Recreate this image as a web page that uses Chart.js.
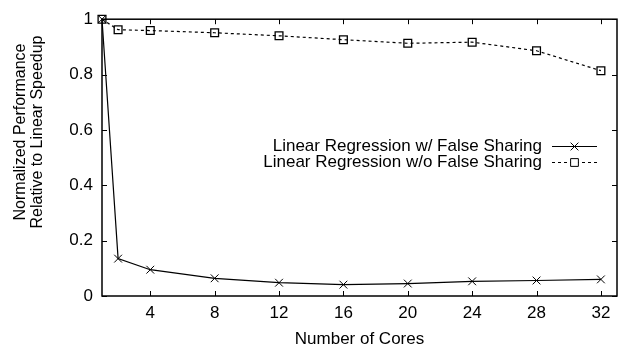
<!DOCTYPE html>
<html>
<head>
<meta charset="utf-8">
<script src="https://cdn.jsdelivr.net/npm/chart.js@4"></script>
<style>
  html, body { margin: 0; padding: 0; background: #fff; }
  #wrap { width: 624px; height: 346px; }
</style>
</head>
<body>
<div id="wrap"><canvas id="myChart" width="624" height="346"></canvas></div>
<script>
// Data
const cores = [1, 2, 4, 8, 12, 16, 20, 24, 28, 32];
const withFalseSharing = [1.0, 0.135, 0.095, 0.064, 0.048, 0.041, 0.045, 0.053, 0.056, 0.06];
const withoutFalseSharing = [1.0, 0.962, 0.959, 0.951, 0.940, 0.926, 0.913, 0.917, 0.886, 0.814];
const xTicks = [4, 8, 12, 16, 20, 24, 28, 32];
const yTicks = [0, 0.2, 0.4, 0.6, 0.8, 1];
const seriesLabels = ['Linear Regression w/ False Sharing', 'Linear Regression w/o False Sharing'];
const xTitle = 'Number of Cores';
const yTitle = ['Normalized Performance', 'Relative to Linear Speedup'];

const FONT = '"Liberation Sans", Arial, sans-serif';
const FSIZE = 17;

function toPoints(xs, ys) {
    return xs.map(function(x, i) { return { x: x, y: ys[i] }; });
}

// Box, inward ticks on all four sides, titles and legend (gnuplot style)
const framePlugin = {
    id: 'frame',
    afterDraw: function(chart) {
        const ctx = chart.ctx;
        const a = chart.chartArea;
        const xs = chart.scales.x;
        const ys = chart.scales.y;
        const tl = 5;
        ctx.save();
        ctx.strokeStyle = '#000';
        ctx.lineWidth = 1;
        ctx.beginPath();
        xTicks.forEach(function(v) {
            const px = Math.round(xs.getPixelForValue(v)) + 0.5;
            ctx.moveTo(px, a.bottom); ctx.lineTo(px, a.bottom - tl);
            ctx.moveTo(px, a.top); ctx.lineTo(px, a.top + tl);
        });
        yTicks.forEach(function(v) {
            const py = Math.round(ys.getPixelForValue(v)) + 0.5;
            ctx.moveTo(a.left, py); ctx.lineTo(a.left + tl, py);
            ctx.moveTo(a.right, py); ctx.lineTo(a.right - tl, py);
        });
        ctx.stroke();
        ctx.lineWidth = 1.5;
        ctx.strokeRect(a.left, a.top, a.right - a.left, a.bottom - a.top);

        ctx.fillStyle = '#000';
        ctx.font = FSIZE + 'px ' + FONT;

        // x title
        ctx.textAlign = 'center';
        ctx.textBaseline = 'alphabetic';
        ctx.fillText(xTitle, (a.left + a.right) / 2, 344);

        // y title
        ctx.font = '16px ' + FONT;
        ctx.textBaseline = 'middle';
        ctx.translate(29, 132);
        ctx.rotate(-Math.PI / 2);
        ctx.fillText(yTitle[0], 0, -8.5);
        ctx.fillText(yTitle[1], 0, 8.5);
        ctx.setTransform(1, 0, 0, 1, 0, 0);
        ctx.font = FSIZE + 'px ' + FONT;

        // legend
        const rows = [146, 162];
        chart.data.datasets.forEach(function(ds, i) {
            const y = rows[i];
            ctx.fillStyle = '#000';
            ctx.textAlign = 'right';
            ctx.fillText(ds.label, 542, y);
            ctx.beginPath();
            ctx.lineWidth = 1;
            ctx.setLineDash(ds.borderDash || []);
            ctx.moveTo(552, y + 0.5);
            ctx.lineTo(597, y + 0.5);
            ctx.stroke();
            ctx.setLineDash([]);
            ctx.fillStyle = '#fff';
            Chart.helpers.drawPoint(ctx, {
                pointStyle: ds.pointStyle,
                radius: ds.pointRadius,
                borderWidth: 1
            }, 574.5, y + 0.5);
        });
        ctx.restore();
    }
};

document.addEventListener('DOMContentLoaded', function() {
    const ctx = document.getElementById('myChart').getContext('2d');

    new Chart(ctx, {
        type: 'line',
        data: {
            datasets: [{
                label: seriesLabels[0],
                data: toPoints(cores, withFalseSharing),
                borderColor: '#000',
                backgroundColor: 'rgba(0,0,0,0)',
                borderWidth: 1.2,
                pointStyle: 'crossRot',
                pointRadius: 5.5,
                pointBorderColor: '#000',
                pointBorderWidth: 1,
                tension: 0,
                clip: false
            }, {
                label: seriesLabels[1],
                data: toPoints(cores, withoutFalseSharing),
                borderColor: '#000',
                backgroundColor: 'rgba(0,0,0,0)',
                borderWidth: 1.2,
                borderDash: [3, 3],
                pointStyle: 'rect',
                pointRadius: 5.5,
                pointBorderColor: '#000',
                pointBackgroundColor: 'rgba(0,0,0,0)',
                pointBorderWidth: 1.3,
                tension: 0,
                clip: false
            }]
        },
        options: {
            responsive: false,
            animation: false,
            devicePixelRatio: 1,
            layout: { padding: { top: 12, right: 7, left: 0, bottom: 0 } },
            plugins: {
                legend: { display: false },
                tooltip: { enabled: false }
            },
            scales: {
                x: {
                    type: 'linear',
                    min: 1,
                    max: 33,
                    afterBuildTicks: function(scale) {
                        scale.ticks = xTicks.map(function(v) { return { value: v }; });
                    },
                    afterFit: function(scale) { scale.height = 50; },
                    grid: { drawOnChartArea: false, drawTicks: false },
                    border: { display: false },
                    ticks: {
                        padding: 7,
                        color: '#000',
                        font: { family: FONT, size: FSIZE },
                        maxRotation: 0
                    }
                },
                y: {
                    min: 0,
                    max: 1,
                    afterBuildTicks: function(scale) {
                        scale.ticks = yTicks.map(function(v) { return { value: v }; });
                    },
                    afterFit: function(scale) { scale.width = 102; },
                    grid: { drawOnChartArea: false, drawTicks: false },
                    border: { display: false },
                    ticks: {
                        padding: 9,
                        color: '#000',
                        font: { family: FONT, size: FSIZE },
                        callback: function(v) { return String(Math.round(v * 10) / 10); }
                    }
                }
            }
        },
        plugins: [framePlugin]
    });
});
</script>
</body>
</html>
